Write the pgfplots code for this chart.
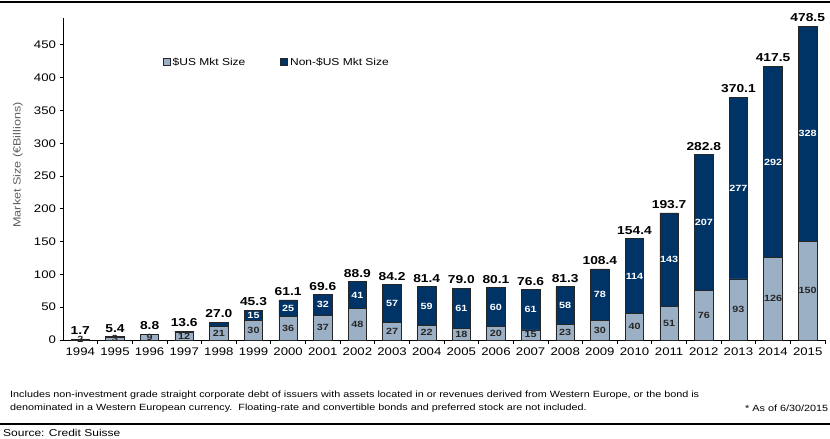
\documentclass[border=0pt]{standalone}
\usepackage{pgfplots}
\pgfplotsset{compat=1.18}
\usepackage{pgfplotstable}
\usepackage{fontspec}
\setmainfont{Liberation Sans}[FakeStretch=1.2]
\definecolor{usblue}{RGB}{155,176,196}
\definecolor{navy}{RGB}{0,51,102}
\definecolor{labgray}{RGB}{95,95,95}

\pgfplotstableread{
x us non tot uslab nonlab
0 1.7 0.0 1.7 2 0
1 3.4 2.0 5.4 3 2
2 8.8 0.0 8.8 9 0
3 11.6 2.0 13.6 12 2
4 21.0 6.0 27.0 21 6
5 30.3 15.0 45.3 30 15
6 36.1 25.0 61.1 36 25
7 37.4 32.2 69.6 37 32
8 47.9 41.0 88.9 48 41
9 27.0 57.2 84.2 27 57
10 22.4 59.0 81.4 22 59
11 18.0 61.0 79.0 18 61
12 20.1 60.0 80.1 20 60
13 15.4 61.2 76.6 15 61
14 23.3 58.0 81.3 23 58
15 30.2 78.2 108.4 30 78
16 40.2 114.2 154.4 40 114
17 50.7 143.0 193.7 51 143
18 76.0 206.8 282.8 76 207
19 93.1 277.0 370.1 93 277
20 125.5 292.0 417.5 126 292
21 150.3 328.2 478.5 150 328
}\data

\pgfplotsset{common/.style={scale only axis, width=762bp, height=322bp,
  xmin=-0.5, xmax=21.5, ymin=0, ymax=491, at={(63bp,99bp)}, anchor=south west}}

\begin{document}
\begin{tikzpicture}[x=1bp,y=1bp]
\useasboundingbox (0,0) rectangle (830,439);
\begin{axis}[common, clip=false,
  ybar stacked, bar width=18.5bp,
  axis x line*=bottom, axis y line*=left,
  axis line style={-, line width=0.9bp, black},
  /pgf/number format/assume math mode=true,
  ytick={0,50,...,450},
  xtick={0,...,21},
  xticklabels={1994,1995,1996,1997,1998,1999,2000,2001,2002,2003,2004,2005,2006,2007,2008,2009,2010,2011,2012,2013,2014,2015},
  minor xtick={0.5,1.5,...,21.5},
  major x tick style={draw=none},
  tick align=outside,
  major tick length=3.5bp, minor tick length=4bp,
  tick style={black, line width=0.8bp},
  ticklabel style={font=\fontsize{11bp}{12bp}\selectfont},
  xticklabel style={yshift=-1bp},
  legend style={at={(0.131,0.863)}, anchor=west, draw=none, fill=none,
    font=\fontsize{10bp}{11bp}\selectfont, inner sep=0pt,
    /tikz/every even column/.append style={column sep=33bp}},
  legend columns=2,
  legend image code/.code={\draw[#1, line width=0.7bp] (0bp,-3.5bp) rectangle (7bp,3.5bp);},
]
\addplot[fill=usblue, draw=black!85, line width=0.7bp] table[x=x, y=us] \data;
\addlegendentry{\$US Mkt Size}
\addplot[fill=navy, draw=black!85, line width=0.7bp] table[x=x, y=non] \data;
\addlegendentry{Non-\$US Mkt Size}
\end{axis}
\begin{axis}[common, hide axis, clip=false]
\addplot[draw=none, nodes near coords, point meta=explicit symbolic,
  every node near coord/.append style={font=\bfseries\fontsize{11.5bp}{12bp}\selectfont, text=black, inner sep=0pt, yshift=4bp}]
  table[x=x, y=tot, meta=tot] \data;
\addplot[draw=none, nodes near coords, point meta=explicit symbolic,
  nodes near coords align={center},
  every node near coord/.append style={font=\bfseries\fontsize{9bp}{10bp}\selectfont, text=black!85}]
  table[x=x, y expr=\thisrow{us}/2, meta=uslab] \data;
\addplot[draw=none, skip coords between index={0}{5}, nodes near coords, point meta=explicit symbolic,
  nodes near coords align={center},
  every node near coord/.append style={font=\bfseries\fontsize{9bp}{10bp}\selectfont, text=white}]
  table[x=x, y expr=\thisrow{us}+\thisrow{non}/2, meta=nonlab] \data;
\end{axis}
\node[rotate=90, text=labgray, font=\fontsize{10.5bp}{11bp}\selectfont] at (18,274) {Market Size (€Billions)};
\draw[line width=2bp] (0,437) -- (830,437);
\node[anchor=west, font=\fontsize{9bp}{10bp}\selectfont, inner sep=0pt] at (10,44) {Includes non-investment grade straight corporate debt of issuers with assets located in or revenues derived from Western Europe, or the bond is};
\node[anchor=west, font=\fontsize{9bp}{10bp}\selectfont, inner sep=0pt] at (10,31) {denominated in a Western European currency.\ \ Floating-rate and convertible bonds and preferred stock are not included.};
\node[anchor=west, font=\fontsize{9bp}{10bp}\selectfont, inner sep=0pt] at (745,31) {* As of 6/30/2015};
\draw[line width=2bp] (0,15) -- (830,15);
\node[anchor=west, font=\fontsize{10bp}{11bp}\selectfont, inner sep=0pt] at (3,6) {Source: Credit Suisse};
\end{tikzpicture}
\end{document}
